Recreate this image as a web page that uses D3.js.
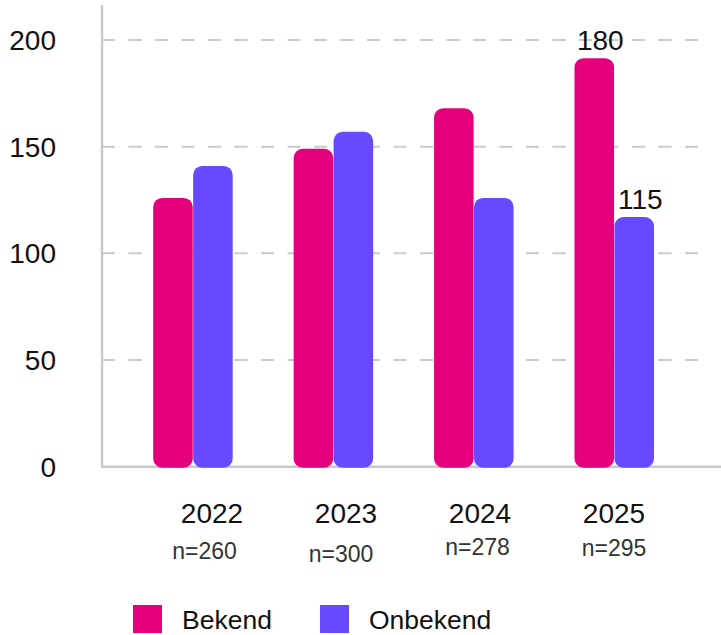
<!DOCTYPE html>
<html><head><meta charset="utf-8">
<script src="https://cdn.jsdelivr.net/npm/d3@7"></script>
<style>html,body{margin:0;padding:0;background:#fff;}svg{display:block;font-family:"Liberation Sans",Arial,sans-serif;}</style>
</head><body><svg id="c" width="721" height="635"></svg>
<script>
const years = ["2022","2023","2024","2025"];
const sampleSizes = ["n=260","n=300","n=278","n=295"];
const seriesNames = ["Bekend","Onbekend"];
const bekend = [126,149,168,191.5];
const onbekend = [141,157,126,117];
const valueLabels = [[null,null],[null,null],[null,null],["180","115"]];
const yTicks = [0,50,100,150,200];
const colors = ["#E4007C","#6849FF"];

const svg = d3.select("#c");
const y = d3.scaleLinear().domain([0,200]).range([466.7,40]);
const xGroup = d3.scalePoint().domain(years).range([193.7,615]);
const xYear = d3.scalePoint().domain(years).range([212,614]);
const xN = d3.scalePoint().domain(years).range([204.5,614]);
const xSeries = d3.scaleBand().domain(seriesNames).range([-40.5,39]).paddingInner(0.01);

// grid
svg.append("g").selectAll("line").data(yTicks.filter(d=>d>0)).join("line")
  .attr("x1",102).attr("x2",708).attr("y1",d=>y(d)).attr("y2",d=>y(d))
  .attr("stroke","#cbcbcb").attr("stroke-width",2).attr("stroke-dasharray","13,13.5");

// y labels
svg.append("g").selectAll("text").data(yTicks).join("text")
  .attr("x",56).attr("y",d=>y(d)+10).attr("text-anchor","end")
  .attr("font-size",28).attr("fill","#111").text(d=>d);

// axes lines
svg.append("line").attr("x1",102).attr("x2",102).attr("y1",5).attr("y2",467.5)
  .attr("stroke","#c8c8c8").attr("stroke-width",2.5);
svg.append("line").attr("x1",101).attr("x2",721).attr("y1",y(0)).attr("y2",y(0))
  .attr("stroke","#c8c8c8").attr("stroke-width",2.5);

// bars
const rows = years.map((yr,i)=>({year:yr, vals:[bekend[i],onbekend[i]], labels:valueLabels[i]}));
const g = svg.append("g").selectAll("g").data(rows).join("g")
  .attr("transform",d=>`translate(${xGroup(d.year)},0)`);
g.selectAll("rect").data(d=>d.vals.map((v,j)=>({v,s:seriesNames[j],j}))).join("rect")
  .attr("x",d=>xSeries(d.s)).attr("width",xSeries.bandwidth())
  .attr("y",d=>y(d.v)).attr("height",d=>y(0)+1-y(d.v))
  .attr("rx",9).attr("ry",9).attr("fill",d=>colors[d.j]);
g.selectAll("text.val").data(d=>d.vals.map((v,j)=>({v,s:seriesNames[j],l:d.labels[j]})).filter(d=>d.l)).join("text")
  .attr("class","val")
  .attr("x",d=>xSeries(d.s)+xSeries.bandwidth()/2+6).attr("y",d=>y(d.v)-8)
  .attr("text-anchor","middle").attr("font-size",28).attr("fill","#111").text(d=>d.l);

// x labels
svg.append("g").selectAll("text").data(years).join("text")
  .attr("x",d=>xYear(d)).attr("y",523).attr("text-anchor","middle")
  .attr("font-size",28).attr("fill","#111").text(d=>d);
svg.append("g").selectAll("text").data(years).join("text")
  .attr("x",d=>xN(d)).attr("y",(d,i)=>[559,562,555,556][i]).attr("text-anchor","middle")
  .attr("font-size",23).attr("fill","#333").text((d,i)=>sampleSizes[i]);

// legend
const leg = svg.append("g").selectAll("g").data(seriesNames).join("g")
  .attr("transform",(d,i)=>`translate(${[133,320][i]},605)`);
leg.append("rect").attr("width",29).attr("height",28).attr("fill",(d,i)=>colors[i]);
leg.append("text").attr("x",49).attr("y",24).attr("font-size",26.5).attr("fill","#111").text(d=>d);
</script></body></html>
